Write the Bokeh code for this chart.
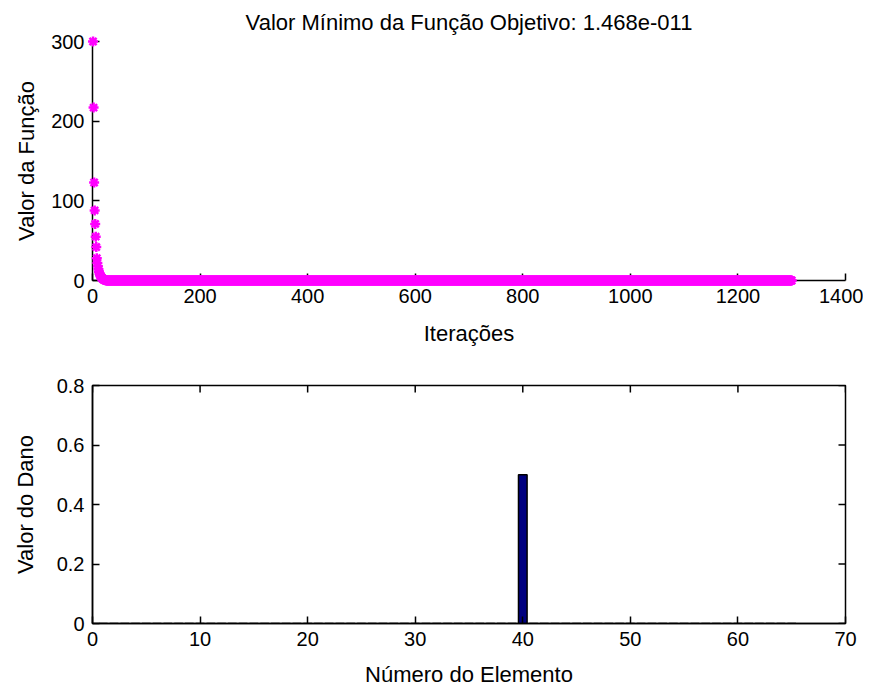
import math
from bokeh.plotting import figure
from bokeh.layouts import column
from bokeh.models import Range1d, FixedTicker
from bokeh.embed import file_html
from bokeh.resources import INLINE

# ---------------- data ----------------
titulo = "Valor Mínimo da Função Objetivo: 1.468e-011"

funcao_inicio = [300, 217, 123, 88, 71, 55, 42, 28, 22, 18, 14, 11, 9, 7, 5.5,
                 4.5, 3.5, 2.8, 2.2, 1.6, 1.2, 0.8, 0.5, 0.3, 0.2]
funcao_cauda_valor = 0.0
n_iteracoes = 1300

# damage per element (65 elements, only element 40 damaged)
dano = [0, 0, 0, 0, 0, 0, 0, 0, 0, 0,
        0, 0, 0, 0, 0, 0, 0, 0, 0, 0,
        0, 0, 0, 0, 0, 0, 0, 0, 0, 0,
        0, 0, 0, 0, 0, 0, 0, 0, 0, 0.5,
        0, 0, 0, 0, 0, 0, 0, 0, 0, 0,
        0, 0, 0, 0, 0, 0, 0, 0, 0, 0,
        0, 0, 0, 0, 0]

ticks_iter = [0, 200, 400, 600, 800, 1000, 1200, 1400]
ticks_func = [0, 100, 200, 300]
ticks_elem = [0, 10, 20, 30, 40, 50, 60, 70]
ticks_dano = [0, 0.2, 0.4, 0.6, 0.8]

funcao = funcao_inicio + [funcao_cauda_valor] * (n_iteracoes - len(funcao_inicio))
iteracoes = list(range(1, n_iteracoes + 1))
elementos = list(range(1, len(dano) + 1))

FONT = "Liberation Sans"
FS_TICK = "20px"
FS_LAB = "22px"
W = 863


def style_axis(ax, ticks, label, standoff):
    ax.ticker = FixedTicker(ticks=ticks)
    ax.major_tick_in = 7
    ax.major_tick_out = 0
    ax.minor_tick_in = 0
    ax.minor_tick_out = 0
    ax.axis_line_color = "black"
    ax.axis_line_width = 1.5
    ax.major_tick_line_color = "black"
    ax.major_tick_line_width = 1.5
    ax.major_label_text_font = FONT
    ax.major_label_text_font_size = FS_TICK
    ax.major_label_text_color = "black"
    ax.major_label_standoff = 8
    ax.axis_label = label
    ax.axis_label_text_font = FONT
    ax.axis_label_text_font_size = FS_LAB
    ax.axis_label_text_font_style = "normal"
    ax.axis_label_text_color = "black"
    ax.axis_label_standoff = standoff


# ---------------- top plot ----------------
p1 = figure(width=W, height=353, output_backend="svg", toolbar_location=None,
            x_range=Range1d(0, 1400), y_range=Range1d(0, 300),
            min_border_left=92, min_border_right=18, min_border_top=40,
            min_border_bottom=73)
p1.title.text = titulo
p1.title.align = "center"
p1.title.text_font = FONT
p1.title.text_font_size = FS_LAB
p1.title.text_font_style = "normal"
p1.title.text_color = "black"
p1.title.standoff = 14
p1.outline_line_color = None
p1.xgrid.visible = False
p1.ygrid.visible = False

style_axis(p1.xaxis[0], ticks_iter, "Iterações", 15)
style_axis(p1.yaxis[0], ticks_func, "Valor da Função", 9)

r1 = p1.scatter(iteracoes, funcao, marker="asterisk", size=10,
                line_color="#FF00FF", line_width=2.5)
r1.level = "overlay"

# ---------------- bottom plot ----------------
p2 = figure(width=W, height=336, output_backend="svg", toolbar_location=None,
            x_range=Range1d(0, 70), y_range=Range1d(0, 0.8),
            min_border_left=92, min_border_right=18, min_border_top=32,
            min_border_bottom=64)
p2.outline_line_color = "black"
p2.outline_line_width = 1.5
p2.xgrid.visible = False
p2.ygrid.visible = False

style_axis(p2.xaxis[0], ticks_elem, "Número do Elemento", 13)
style_axis(p2.yaxis[0], ticks_dano, "Valor do Dano", 16)

# mirrored inward ticks on the top and right edges (half clipped by the frame)
p2.scatter(x=ticks_elem, y=[0.8] * len(ticks_elem), marker="dash", size=14,
           angle=math.pi / 2, line_color="black", line_width=1.5)
p2.scatter(x=[70] * len(ticks_dano), y=ticks_dano, marker="dash", size=14,
           line_color="black", line_width=1.5)

p2.vbar(x=elementos, top=dano, bottom=0, width=0.8,
        fill_color="#000080", line_color="black", line_width=1.5)

layout = column(p1, p2)
open("out.html", "w").write(file_html(layout, INLINE))
